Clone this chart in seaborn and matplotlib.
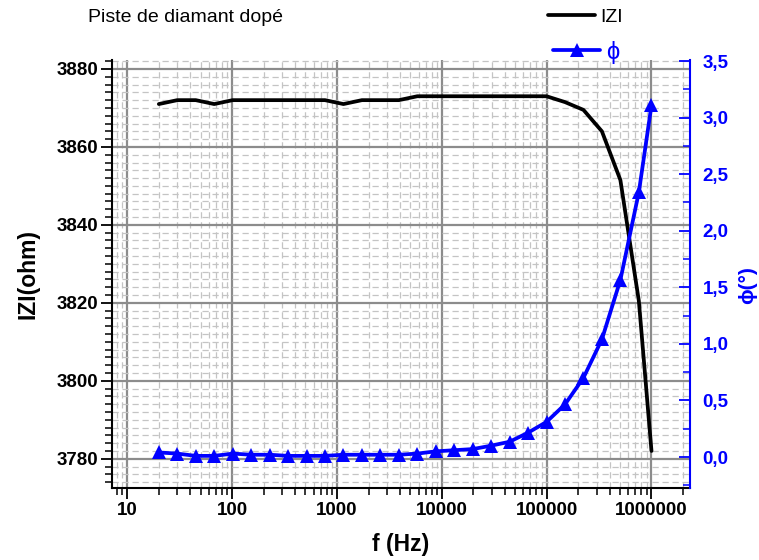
import pandas as pd
import matplotlib
matplotlib.use('Agg')
import matplotlib.pyplot as plt
import matplotlib.ticker as mticker
import seaborn as sns

# Data
freq_hz = [20, 30, 45, 67.5, 101.25, 151.9, 227.8, 341.7, 512.6, 768.9,
           1153, 1730, 2595, 3892, 5839, 8758, 13137, 19705, 29558, 44337,
           66505, 99758, 149637, 224456, 336683, 505025, 757538, 1000000]
z_ohm = [3871, 3872, 3872, 3871, 3872, 3872, 3872, 3872, 3872, 3872,
         3871, 3872, 3872, 3872, 3873, 3873, 3873, 3873, 3873, 3873,
         3873, 3873, 3871.5, 3869.5, 3864, 3851.5, 3820.5, 3782]
phase_deg = [0.04, 0.03, 0.01, 0.01, 0.03, 0.02, 0.02, 0.01, 0.01, 0.01,
             0.02, 0.02, 0.02, 0.02, 0.03, 0.05, 0.06, 0.07, 0.10, 0.135,
             0.215, 0.31, 0.465, 0.70, 1.04, 1.565, 2.34, 3.11]

x_ticks = [10, 100, 1000, 10000, 100000, 1000000]
x_tick_labels = ['10', '100', '1000', '10000', '100000', '1000000']
z_ticks = [3780, 3800, 3820, 3840, 3860, 3880]
phase_ticks = [0.0, 0.5, 1.0, 1.5, 2.0, 2.5, 3.0, 3.5]
phase_tick_labels = ['0,0', '0,5', '1,0', '1,5', '2,0', '2,5', '3,0', '3,5']

sns.set_style('ticks')
plt.rcParams['font.family'] = ['Liberation Sans', 'DejaVu Sans']
plt.rcParams['text.color'] = 'black'
plt.rcParams['axes.labelcolor'] = 'black'
plt.rcParams['xtick.color'] = 'black'
plt.rcParams['ytick.color'] = 'black'

df = pd.DataFrame({'f': freq_hz, 'Z': z_ohm, 'phi': phase_deg})

fig = plt.figure(figsize=(7.59, 5.60), dpi=100)
ax = fig.add_axes([112 / 759, 1 - 488 / 560, 578 / 759, 428 / 560])
ax2 = ax.twinx()

sns.lineplot(data=df, x='f', y='Z', ax=ax, color='black', lw=2.7, legend=False)
sns.lineplot(data=df, x='f', y='phi', ax=ax2, color='blue', lw=2.7,
             marker='^', markersize=10.5, markeredgewidth=0, legend=False)

ax.set_xscale('log')
ax.set_xlim(7.15, 2.33e6)
ax.set_ylim(3772.5, 3882.3)
ax2.set_ylim(-0.274, 3.509)

# x axis
ax.set_xticks(x_ticks)
ax.set_xticklabels(x_tick_labels, fontsize=13.5, fontweight='bold')
ax.xaxis.set_minor_locator(mticker.LogLocator(base=10, subs=range(2, 10), numticks=20))
ax.xaxis.set_minor_formatter(mticker.NullFormatter())

# left axis
ax.set_yticks(z_ticks)
ax.set_yticklabels([str(v) for v in z_ticks], fontsize=13.5, fontweight='bold')
ax.yaxis.set_minor_locator(mticker.MultipleLocator(2))

# right axis
ax2.set_yticks(phase_ticks)
ax2.set_yticklabels(phase_tick_labels, fontsize=13.5, fontweight='bold', color='blue')
ax2.yaxis.set_minor_locator(mticker.MultipleLocator(0.25))

ax.tick_params(axis='both', which='major', direction='out', length=8, width=1.3,
               color='black', labelcolor='black', pad=2)
ax.tick_params(axis='both', which='minor', direction='out', length=5, width=1.1,
               color='black')
ax2.tick_params(axis='y', which='major', direction='in', length=8, width=1.3,
                color='blue', labelcolor='blue', pad=9)
ax2.tick_params(axis='y', which='minor', direction='in', length=5, width=1.1,
                color='blue')

# grid
ax.set_axisbelow(True)
ax.grid(which='major', color='#8c8c8c', lw=1.6)
ax.grid(which='minor', color='#c4c4c4', lw=0.9, ls=(0, (5, 3)))

# spines
for s in ['top', 'right']:
    ax.spines[s].set_visible(False)
for s in ['top', 'left', 'bottom']:
    ax2.spines[s].set_visible(False)
ax.spines['left'].set_color('black')
ax.spines['left'].set_linewidth(1.5)
ax.spines['bottom'].set_color('black')
ax.spines['bottom'].set_linewidth(1.5)
ax2.spines['right'].set_color('blue')
ax2.spines['right'].set_linewidth(1.5)

# labels
ax.set_xlabel('f (Hz)', fontsize=16.5, fontweight='bold', labelpad=10)
ax.set_ylabel('IZI(ohm)', fontsize=16.5, fontweight='bold', labelpad=12)
ax2.set_ylabel('')
fig.text(748 / 759, 1 - 285 / 560, 'ϕ(°)', fontsize=15, fontweight='bold',
         color='blue', rotation=90, ha='center', va='center')

fig.text(88 / 759, 1 - 17 / 560, 'Piste de diamant dopé', fontsize=14,
         ha='left', va='center')

# legends
z_line = ax.get_lines()[0]
phi_line = ax2.get_lines()[0]
leg1 = fig.legend([z_line], ['IZI'], loc='center left',
                  bbox_to_anchor=(548 / 759, 1 - 17 / 560), frameon=False,
                  fontsize=14, handlelength=2.4, handletextpad=0.3, borderpad=0,
                  borderaxespad=0)
leg2 = fig.legend([phi_line], ['ϕ'], loc='center left',
                  bbox_to_anchor=(553 / 759, 1 - 52 / 560), frameon=False,
                  fontsize=17, handlelength=2.0, handletextpad=0.25, borderpad=0,
                  borderaxespad=0)
leg2.get_texts()[0].set_color('blue')

fig.savefig('out.png', dpi=100)
